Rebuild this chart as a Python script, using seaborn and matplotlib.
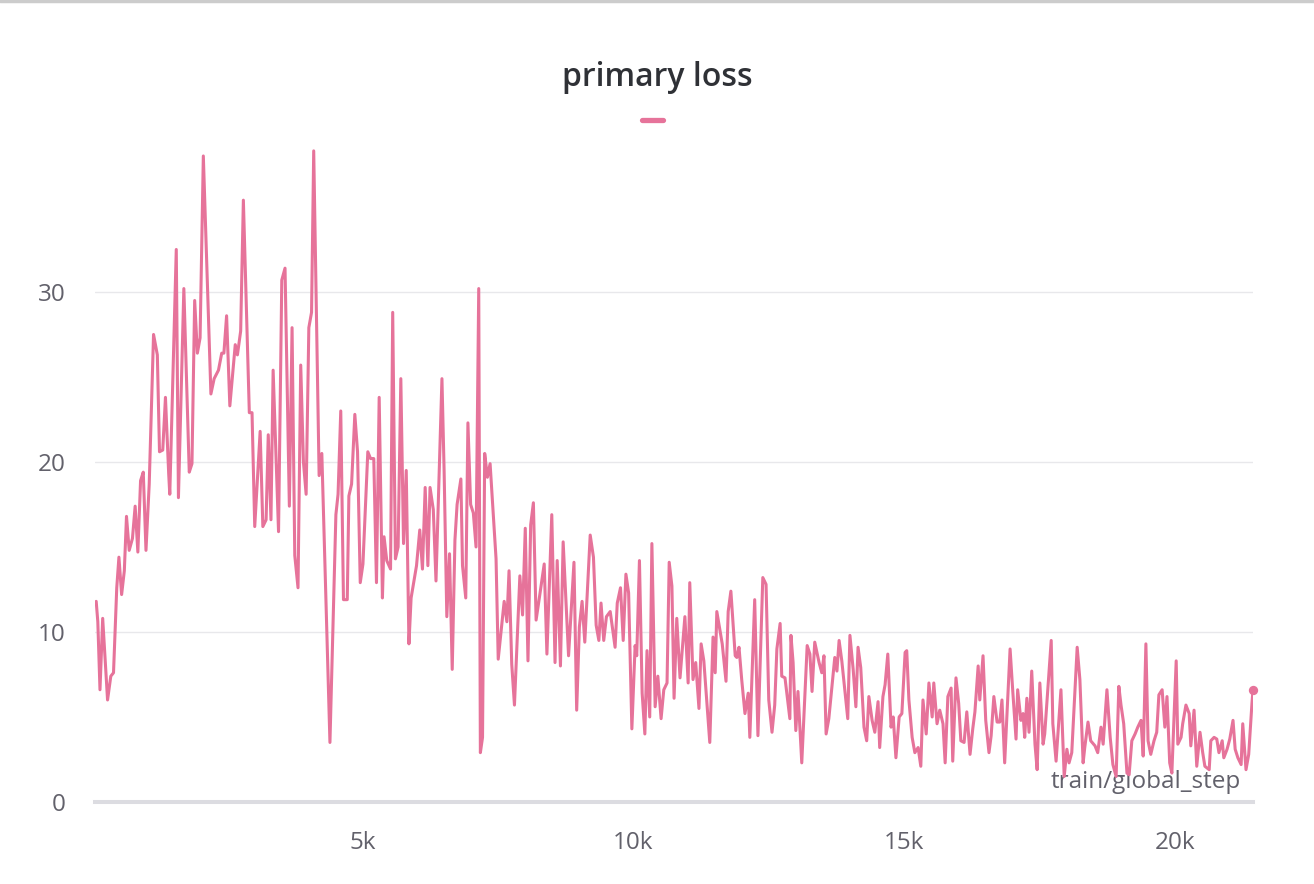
import pandas as pd
import seaborn as sns
import matplotlib.pyplot as plt
from matplotlib.lines import Line2D
from matplotlib.ticker import FuncFormatter

steps = [70, 100, 140, 190, 230, 280, 340, 390, 450, 490, 540, 590, 630, 680, 740, 790, 840, 890, 940, 990,
         1050, 1130, 1200, 1240, 1300, 1350, 1410, 1430, 1550, 1590, 1690, 1790, 1840, 1890, 1940, 1990, 2050,
         2190, 2250, 2330, 2390, 2430, 2480, 2540, 2640, 2680, 2740, 2790, 2900, 2950, 3000, 3100, 3150, 3210,
         3250, 3300, 3340, 3440, 3500, 3560, 3640, 3690, 3740, 3800, 3850, 3900, 3950, 4000, 4050, 4090, 4190,
         4240, 4390, 4500, 4540, 4590, 4640, 4710, 4740, 4790, 4850, 4900, 4950, 5000, 5090, 5140, 5200, 5250,
         5300, 5360, 5390, 5440, 5510, 5550, 5600, 5650, 5700, 5750, 5800, 5850, 5890, 5990, 6050, 6100, 6150,
         6200, 6240, 6300, 6350, 6460, 6500, 6550, 6600, 6650, 6700, 6740, 6810, 6840, 6900, 6940, 6990, 7040,
         7090, 7140, 7170, 7210, 7250, 7300, 7350, 7460, 7500, 7610, 7660, 7700, 7750, 7800, 7900, 7950, 8000,
         8050, 8100, 8150, 8200, 8260, 8350, 8400, 8490, 8550, 8590, 8650, 8700, 8800, 8900, 8950, 9000, 9050,
         9100, 9200, 9260, 9310, 9360, 9400, 9450, 9500, 9570, 9660, 9700, 9760, 9810, 9860, 9910, 9970, 10030,
         10060, 10110, 10160, 10210, 10250, 10300, 10340, 10400, 10450, 10510, 10560, 10620, 10660, 10710, 10750,
         10800, 10860, 10950, 11010, 11040, 11100, 11150, 11210, 11250, 11300, 11410, 11470, 11510, 11540, 11640,
         11710, 11750, 11800, 11880, 11910, 11950, 12000, 12060, 12120, 12150, 12240, 12300, 12390, 12450, 12500,
         12560, 12610, 12650, 12710, 12740, 12800, 12890, 12910, 12950, 13000, 13040, 13110, 13210, 13260, 13300,
         13350, 13430, 13480, 13520, 13560, 13610, 13720, 13760, 13800, 13850, 13960, 14000, 14060, 14110, 14150,
         14200, 14260, 14310, 14350, 14410, 14460, 14520, 14550, 14610, 14650, 14700, 14760, 14800, 14850, 14910,
         14960, 15020, 15050, 15090, 15150, 15200, 15260, 15310, 15350, 15410, 15460, 15520, 15550, 15610, 15660,
         15720, 15760, 15810, 15870, 15900, 15960, 16010, 16050, 16110, 16160, 16220, 16270, 16310, 16370, 16400,
         16460, 16510, 16570, 16610, 16660, 16720, 16770, 16810, 16860, 16960, 17010, 17070, 17100, 17160, 17200,
         17230, 17270, 17310, 17360, 17420, 17460, 17510, 17570, 17600, 17720, 17750, 17810, 17900, 17960, 18010,
         18050, 18100, 18200, 18250, 18310, 18340, 18400, 18450, 18530, 18580, 18640, 18680, 18750, 18810, 18860,
         18920, 18970, 19010, 19060, 19120, 19160, 19210, 19270, 19320, 19380, 19420, 19470, 19510, 19560, 19620,
         19670, 19710, 19770, 19820, 19860, 19910, 19950, 20030, 20060, 20120, 20150, 20210, 20270, 20300, 20360,
         20410, 20470, 20520, 20560, 20640, 20670, 20730, 20780, 20820, 20880, 20910, 20970, 21020, 21080, 21120,
         21170, 21230, 21260, 21320, 21370, 21430, 21450]

loss = [11.8, 10.6, 6.6, 10.8, 8.7, 6.0, 7.4, 7.6, 12.6, 14.4, 12.2, 13.6, 16.8, 14.8, 15.5, 17.4, 14.7, 18.9, 19.4, 14.8,
        18.7, 27.5, 26.3, 20.6, 20.7, 23.8, 19.3, 18.1, 32.5, 17.9, 30.2, 19.4, 19.9, 29.5, 26.4, 27.3, 38.0,
        24.0, 24.9, 25.4, 26.4, 26.4, 28.6, 23.3, 26.9, 26.3, 27.7, 35.4, 22.9, 22.9, 16.2, 21.8, 16.2, 16.6,
        21.6, 16.6, 25.4, 15.9, 30.7, 31.4, 17.4, 27.9, 14.5, 12.6, 25.7, 20.0, 18.1, 27.9, 28.8, 38.3, 19.2,
        20.5, 3.5, 16.9, 18.1, 23.0, 11.9, 11.9, 18.0, 18.7, 22.8, 20.6, 12.9, 14.0, 20.6, 20.2, 20.2, 12.9,
        23.8, 12.0, 15.6, 14.2, 13.7, 28.8, 14.3, 15.0, 24.9, 15.2, 19.5, 9.3, 12.0, 13.9, 16.0, 13.7, 18.5,
        13.9, 18.5, 17.2, 13.0, 24.9, 19.5, 10.9, 14.6, 7.8, 15.4, 17.5, 19.0, 13.9, 12.0, 22.3, 17.5, 17.0,
        15.0, 30.2, 2.9, 3.8, 20.5, 19.1, 19.9, 14.3, 8.4, 11.8, 10.6, 13.6, 8.1, 5.7, 13.3, 11.0, 16.1,
        8.3, 16.3, 17.6, 10.7, 12.0, 14.0, 8.7, 16.9, 8.2, 14.2, 8.0, 15.3, 8.6, 14.1, 5.4, 10.3, 11.8,
        9.4, 15.7, 14.4, 10.4, 9.5, 11.7, 9.5, 10.9, 11.2, 9.1, 11.7, 12.6, 9.5, 13.4, 12.3, 4.3, 9.2,
        8.6, 14.2, 6.4, 4.0, 8.9, 5.0, 15.2, 5.6, 7.4, 4.9, 6.6, 7.0, 14.1, 12.7, 6.1,
        10.8, 7.3, 10.9, 7.0, 12.9, 7.2, 8.2, 5.5, 9.3, 8.3, 3.5, 9.7, 7.6, 11.2, 9.3,
        7.1, 11.2, 12.4, 8.6, 8.5, 9.1, 7.2, 5.2, 6.4, 3.8, 11.9, 3.9, 13.2, 12.8, 6.0,
        4.1, 5.7, 9.0, 10.5, 7.4, 7.3, 4.9, 9.8, 8.2, 4.2, 6.5, 2.3, 9.2, 8.7, 6.5,
        9.4, 8.2, 7.6, 8.6, 4.0, 4.9, 8.5, 7.7, 9.5, 8.3, 4.9, 9.8, 7.8, 5.6, 9.1,
        7.9, 4.4, 3.6, 6.2, 4.8, 4.1, 5.9, 3.2, 6.2, 6.9, 8.7, 4.4, 5.0, 2.6, 5.0,
        5.2, 8.8, 8.9, 6.0, 3.8, 2.9, 3.2, 2.1, 6.0, 4.0, 7.0, 5.0, 7.0, 4.6, 5.4,
        4.6, 2.3, 6.2, 6.7, 2.4, 7.3, 5.8, 3.6, 3.5, 5.3, 2.8, 4.3, 5.3, 8.0, 6.0,
        8.6, 4.8, 2.9, 3.9, 6.2, 4.7, 4.7, 6.0, 2.3, 9.0, 6.5, 3.7, 6.6, 4.8, 5.2,
        3.8, 6.1, 4.1, 7.7, 3.4, 1.9, 7.0, 3.4, 4.0, 9.5, 4.6, 2.4, 6.6, 1.5, 3.1,
        2.3, 2.9, 9.1, 7.2, 2.3, 3.2, 4.7, 3.6, 3.3, 2.9, 4.4, 3.4, 6.6, 3.8, 2.2,
        1.5, 6.8, 5.7, 4.6, 1.7, 1.6, 3.6, 4.0, 4.4, 4.8, 2.7, 9.3, 3.6, 2.8, 3.6,
        4.1, 6.3, 6.6, 4.4, 6.2, 2.3, 1.7, 8.3, 3.4, 3.8, 4.6, 5.7, 5.2, 3.3, 5.4,
        2.1, 4.1, 2.9, 2.1, 1.9, 3.6, 3.8, 3.7, 2.9, 3.6, 2.6, 3.1, 3.7, 4.8, 3.1,
        2.6, 2.2, 4.6, 1.9, 2.8, 5.8, 6.6]

xticks = [5000, 10000, 15000, 20000]
yticks = [0, 10, 20, 30]

df = pd.DataFrame({'train/global_step': steps, 'primary loss': loss})

line_color = '#e6739a'
text_grey = '#62616b'
axis_grey = '#dcdce1'

sns.set_theme(style='white')
plt.rcParams['font.family'] = ['Open Sans', 'DejaVu Sans']

fig = plt.figure(figsize=(13.14, 8.84), dpi=100)
ax = fig.add_axes([0.0723, 0.0928, 0.8813, 0.75])

sns.lineplot(data=df, x='train/global_step', y='primary loss', ax=ax,
             color=line_color, linewidth=2.2, estimator=None, sort=False)
# dot on the last logged value
sns.scatterplot(data=df.tail(1), x='train/global_step', y='primary loss', ax=ax,
                color=line_color, s=45, linewidth=0, clip_on=False, zorder=5)

ax.set_xlim(48, 21450)
ax.set_ylim(0, 39)
ax.set_xticks(xticks)
ax.set_yticks(yticks)
ax.xaxis.set_major_formatter(FuncFormatter(lambda v, p: f'{int(v / 1000)}k'))

ax.yaxis.grid(True, color='#e8e8eb', linewidth=1)
ax.xaxis.grid(False)
ax.set_axisbelow(True)
for side in ['top', 'right', 'left']:
    ax.spines[side].set_visible(False)
ax.spines['bottom'].set_color(axis_grey)
ax.spines['bottom'].set_linewidth(2.9)

ax.tick_params(axis='y', length=0, pad=21, labelsize=17.5, labelcolor=text_grey)
ax.tick_params(axis='x', direction='inout', length=16.5, width=1.5, color=axis_grey,
               pad=13, labelsize=17.5, labelcolor=text_grey)

ax.set_ylabel('')
ax.set_xlabel('train/global_step', fontsize=17.5, color=text_grey)
ax.xaxis.set_label_coords(0.9896, 0.03)
ax.xaxis.label.set_ha('right')
ax.xaxis.label.set_va('center')

fig.text(0.5, 1 - 78 / 884, 'primary loss', ha='center', va='center',
         fontsize=23, weight='semibold', color='#2f3136')
# little legend swatch under the title
fig.add_artist(Line2D([641.5 / 1314, 662.5 / 1314], [1 - 120 / 884] * 2, transform=fig.transFigure,
                      color=line_color, lw=3.8, solid_capstyle='round'))
# panel border at the top
fig.add_artist(Line2D([0, 1], [0.999, 0.999], transform=fig.transFigure, color='#cccccc', lw=2.5))

fig.savefig('out.png', dpi=100)
